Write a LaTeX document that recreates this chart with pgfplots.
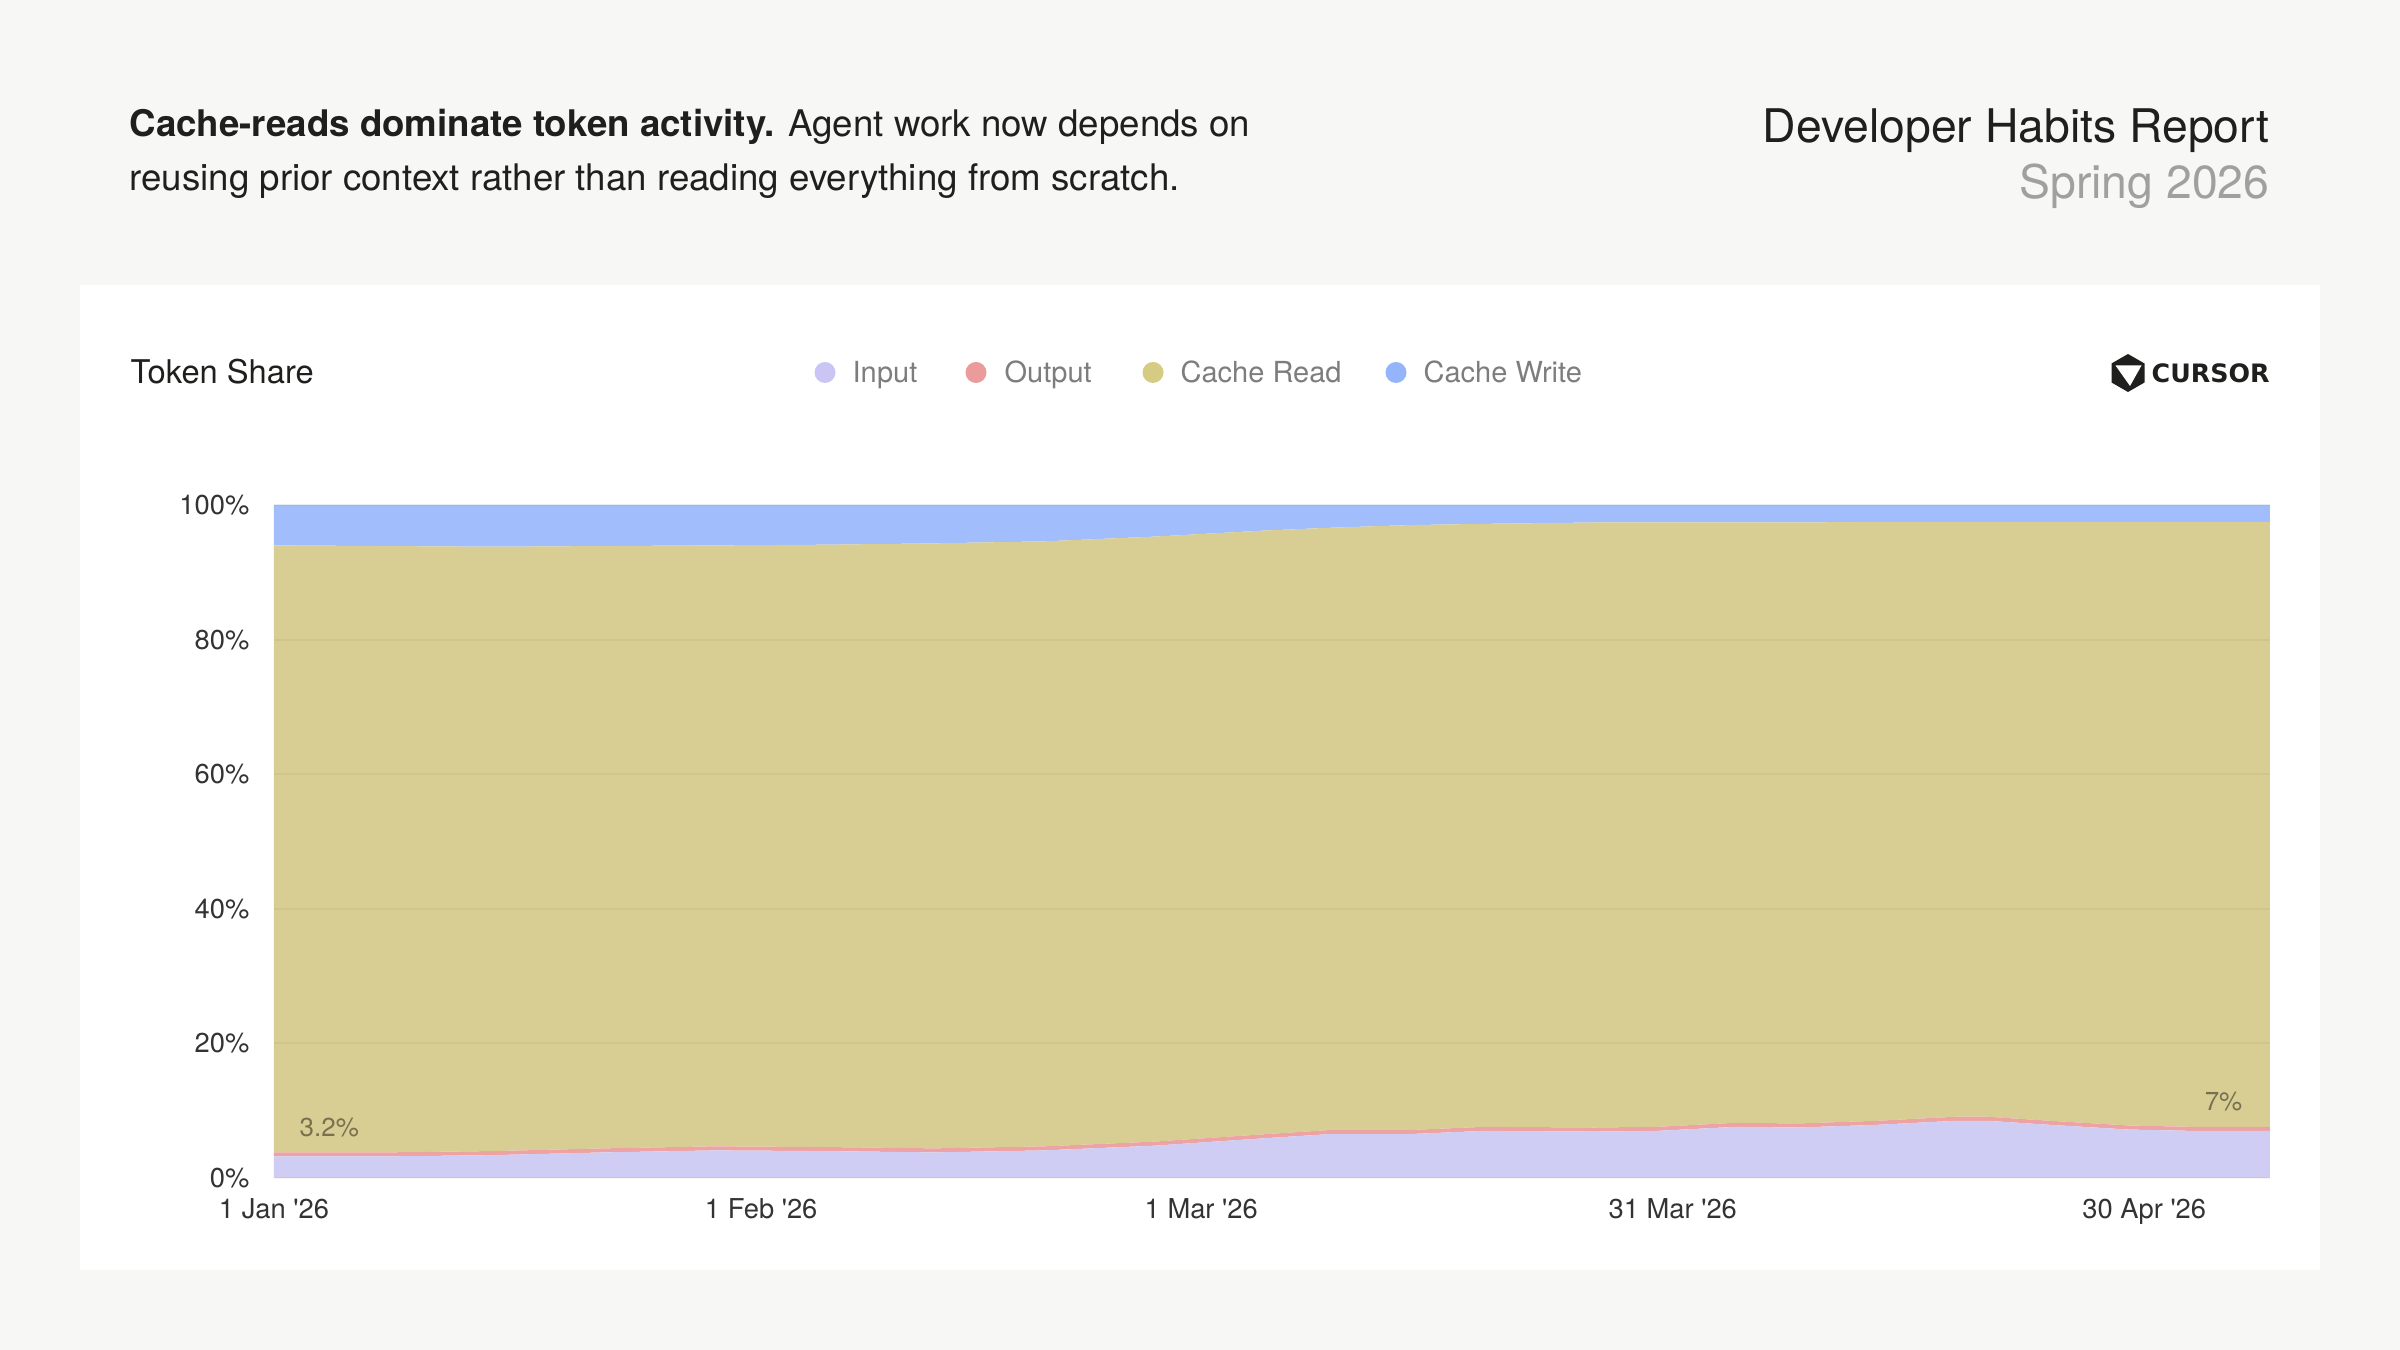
\documentclass[border=0pt]{standalone}
\usepackage{pgfplots}
\usepackage{pgfplotstable}
\pgfplotsset{compat=1.18}
\usepackage{fontspec}
\setmainfont{TeX Gyre Heros}
\newfontfamily\logofont{DejaVu Sans}

\definecolor{bg}{RGB}{247,247,245}
\definecolor{cInput}{RGB}{207,205,243}
\definecolor{cOutput}{RGB}{238,163,163}
\definecolor{cRead}{RGB}{216,206,148}
\definecolor{cWrite}{RGB}{161,189,251}
\definecolor{dInput}{RGB}{201,198,245}
\definecolor{dOutput}{RGB}{236,155,155}
\definecolor{dRead}{RGB}{214,203,130}
\definecolor{dWrite}{RGB}{148,180,251}
\definecolor{ink}{RGB}{31,31,29}
\definecolor{graytitle}{RGB}{160,160,156}
\definecolor{legtext}{RGB}{125,125,125}
\definecolor{ticktext}{RGB}{51,51,51}
\definecolor{annot}{RGB}{120,113,80}

\pgfplotstableread{
day input output cread cwrite
0   3.2 0.6 90.2 6.0
7   3.2 0.6 90.1 6.1
14  3.4 0.6 89.8 6.2
21  3.8 0.6 89.5 6.1
28  4.1 0.6 89.3 6.0
35  4.0 0.6 89.5 5.9
42  3.8 0.6 89.9 5.7
49  4.1 0.6 89.9 5.4
56  4.8 0.6 89.9 4.7
63  5.9 0.6 89.7 3.8
67  6.5 0.6 89.5 3.4
72  6.5 0.6 89.9 3.0
77  7.0 0.6 89.6 2.8
84  6.9 0.6 89.9 2.6
88  7.0 0.6 89.8 2.6
93  7.6 0.6 89.2 2.6
97  7.5 0.6 89.3 2.6
102 7.9 0.6 89.0 2.5
107 8.5 0.6 88.4 2.5
109 8.5 0.6 88.4 2.5
113 7.9 0.6 89.0 2.5
118 7.2 0.6 89.7 2.5
122 7.0 0.6 89.9 2.5
127 7.0 0.6 89.9 2.5
}\tokendata

\begin{document}
\begin{tikzpicture}[x=0.3pt,y=0.3pt]
\fill[bg] (0,0) rectangle (2400,1350);
\fill[white] (80,80) rectangle (2320,1065);

% header
\node[anchor=base west, inner sep=0, text=ink] at (129,1213)
  {\fontsize{11}{13}\selectfont\textbf{Cache-reads dominate token activity.} Agent work now depends on};
\node[anchor=base west, inner sep=0, text=ink] at (129,1159)
  {\fontsize{11}{13}\selectfont reusing prior context rather than reading everything from scratch.};
\node[anchor=base east, inner sep=0, text=ink] at (2270,1207)
  {\fontsize{13.9}{16}\selectfont Developer Habits Report};
\node[anchor=base east, inner sep=0, text=graytitle] at (2270,1151)
  {\fontsize{13.9}{16}\selectfont Spring 2026};

% card title
\node[anchor=base west, inner sep=0, text=ink] at (130,966)
  {\fontsize{9.8}{12}\selectfont Token Share};

% legend
\fill[dInput]  (825,977.5)  circle[radius=3.15pt];
\fill[dOutput] (976,977.5)  circle[radius=3.15pt];
\fill[dRead]   (1153,977.5) circle[radius=3.15pt];
\fill[dWrite]  (1396,977.5) circle[radius=3.15pt];
\node[anchor=base west, inner sep=0, text=legtext] at (852,967)  {\fontsize{8.7}{10}\selectfont Input};
\node[anchor=base west, inner sep=0, text=legtext] at (1004,967) {\fontsize{8.7}{10}\selectfont Output};
\node[anchor=base west, inner sep=0, text=legtext] at (1180,967) {\fontsize{8.7}{10}\selectfont Cache Read};
\node[anchor=base west, inner sep=0, text=legtext] at (1423,967) {\fontsize{8.7}{10}\selectfont Cache Write};

% logo
\fill[ink] (2128,996) -- (2144.5,986.5) -- (2144.5,967.5) -- (2128,958) -- (2111.5,967.5) -- (2111.5,986.5) -- cycle;
\fill[white] (2115.5,984.5) -- (2141.5,984.5) -- (2130,964) -- cycle;
\node[anchor=base west, inner sep=0, text=ink] at (2151,967) {\logofont\fontsize{7.6}{9}\selectfont\bfseries CURSOR};

\begin{axis}[
  at={(82.2pt,51.6pt)}, anchor=south west,
  scale only axis, width=598.8pt, height=201.9pt,
  xmin=0, xmax=127, ymin=0, ymax=100,
  stack plots=y,
  axis line style={draw=none},
  major tick length=0pt,
  tick style={draw=none},
  ytick={0,20,40,60,80,100},
  yticklabels={0\%,20\%,40\%,60\%,80\%,100\%},
  xtick={0,31,59,89,119},
  xticklabels={1 Jan \textquotesingle26,1 Feb \textquotesingle26,1 Mar \textquotesingle26,31 Mar \textquotesingle26,30 Apr \textquotesingle26},
  ticklabel style={font=\fontsize{8.2}{10}\selectfont, text=ticktext, inner sep=0pt},
  yticklabel style={anchor=east, xshift=-7.2pt},
  xticklabel style={anchor=north, yshift=-6pt},
  ymajorgrids,
  grid style={black, opacity=0.04, line width=0.6pt},
  axis on top,
  clip=false,
]
\addplot[fill=cInput, draw=none] table[x=day,y=input]{\tokendata} \closedcycle;
\addplot[fill=cOutput, draw=none] table[x=day,y=output]{\tokendata} \closedcycle;
\addplot[fill=cRead, draw=none] table[x=day,y=cread]{\tokendata} \closedcycle;
\addplot[fill=cWrite, draw=none] table[x=day,y=cwrite]{\tokendata} \closedcycle;
\end{axis}
% value annotations
\node[anchor=base west, inner sep=0, text=annot] at (299,213) {\fontsize{7.8}{9}\selectfont 3.2\%};
\node[anchor=base east, inner sep=0, text=annot] at (2243,239) {\fontsize{7.8}{9}\selectfont 7\%};
\end{tikzpicture}
\end{document}
